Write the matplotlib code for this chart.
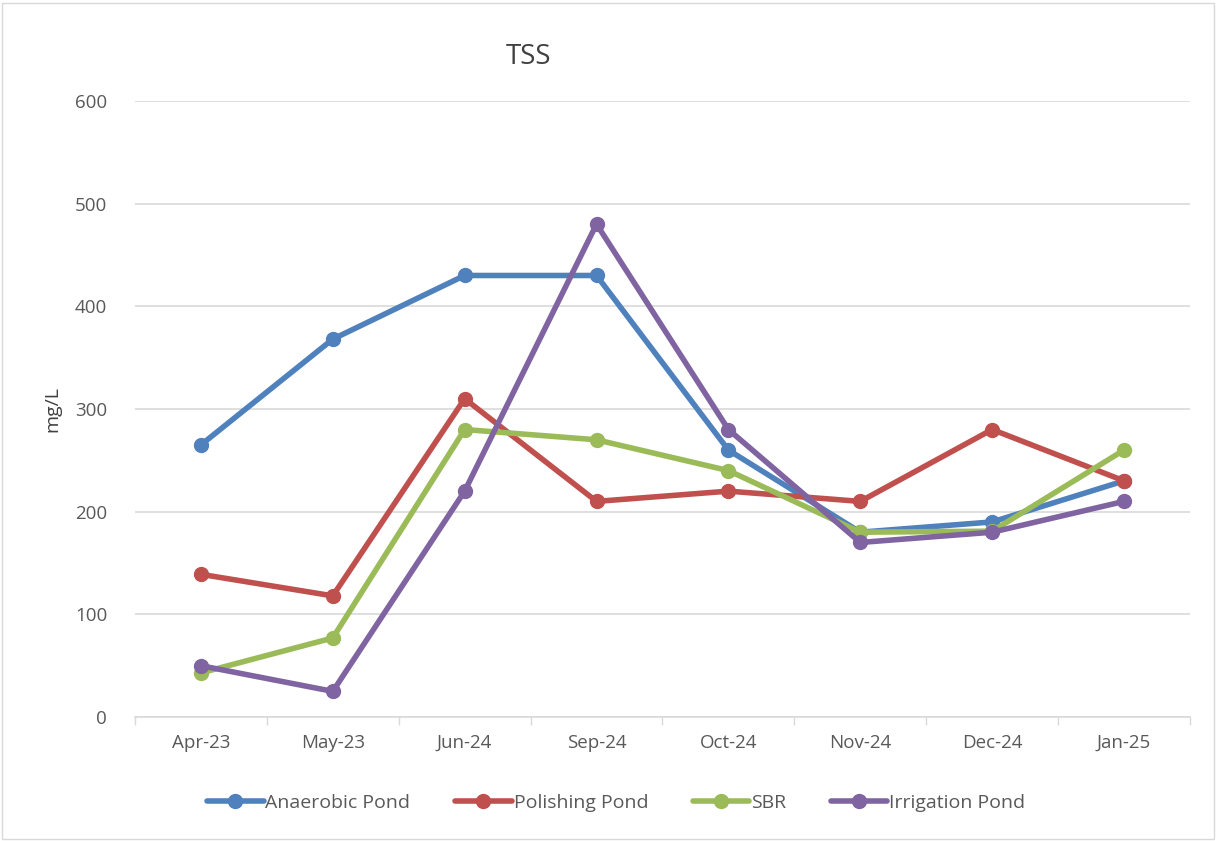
import matplotlib
matplotlib.use("Agg")
import matplotlib.pyplot as plt
from matplotlib.patches import Rectangle

plt.rcParams['font.family'] = ['Open Sans', 'DejaVu Sans']

months = ["Apr-23", "May-23", "Jun-24", "Sep-24", "Oct-24", "Nov-24", "Dec-24", "Jan-25"]
anaerobic = [265, 368, 430, 430, 260, 180, 190, 230]
polishing = [139, 118, 310, 210, 220, 210, 280, 230]
sbr = [43, 77, 280, 270, 240, 180, 181, 260]
irrigation = [50, 25, 220, 480, 280, 170, 180, 210]

series = [
    ("Anaerobic Pond", anaerobic, "#4f81bd"),
    ("Polishing Pond", polishing, "#c0504d"),
    ("SBR", sbr, "#9bbb59"),
    ("Irrigation Pond", irrigation, "#8064a2"),
]

fig = plt.figure(figsize=(12.18, 8.41), dpi=100)
ax = fig.add_axes([0.1108, 0.1474, 0.8662, 0.7326])

x = list(range(len(months)))
for name, vals, col in series:
    ax.plot(x, vals, color=col, lw=4, marker='o', ms=10, label=name,
            solid_capstyle='round')

ax.set_xlim(-0.5, len(months) - 0.5)
ax.set_ylim(0, 600)
ax.set_yticks(range(0, 601, 100))
ax.set_xticks(x)
ax.set_xticklabels(months)
ax.set_xticks([i - 0.5 for i in range(len(months) + 1)], minor=True)
ax.tick_params(axis='x', which='major', length=0, pad=12, labelsize=13.5, colors='#595959')
ax.tick_params(axis='x', which='minor', length=6, color='#d9d9d9', width=1)
ax.tick_params(axis='y', length=0, pad=20, labelsize=13.5, colors='#595959')
ax.grid(axis='y', color='#d9d9d9', lw=1.2)
ax.set_axisbelow(True)
for s in ['top', 'right', 'left']:
    ax.spines[s].set_visible(False)
ax.spines['bottom'].set_color('#d9d9d9')
ax.spines['bottom'].set_linewidth(1.2)

ax.set_ylabel("mg/L", fontsize=14, color='#404040', labelpad=10)
fig.text(0.434, 0.932, "TSS", fontsize=20, color='#404040', ha='center', va='center')

fig.legend(loc='center', bbox_to_anchor=(0.506, 0.045), ncol=4, frameon=False,
           fontsize=14, handlelength=2.9, handletextpad=0.1, columnspacing=2.3,
           labelcolor='#595959')

fig.patches.append(Rectangle((0.002, 0.002), 0.995, 0.995, transform=fig.transFigure,
                             fill=False, edgecolor='#d9d9d9', lw=1))

fig.savefig("out.png", dpi=100, facecolor='white')
